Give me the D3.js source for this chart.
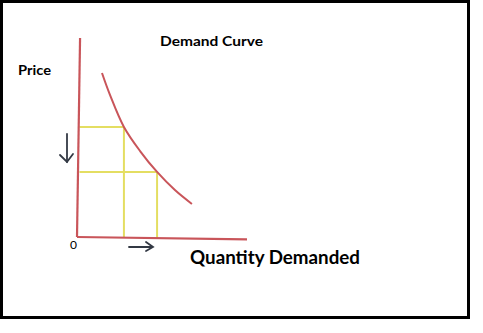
<!DOCTYPE html>
<html>
<head>
<meta charset="utf-8">
<script src="https://cdn.jsdelivr.net/npm/d3@7"></script>
<style>
  body { margin: 0; background: #fff; }
  svg { display: block; }
  text { font-family: Lato, "Open Sans", sans-serif; fill: #000; }
</style>
</head>
<body>
<svg id="chart" width="483" height="333"></svg>
<script>

// demand curve (quantity, price)
var curveQty   = [1.47, 1.94, 2.76, 3.71, 4.71, 5.76, 6.76];
var curvePrice = [8.24, 7.14, 5.53, 4.32, 3.27, 2.36, 1.66];

// the two price / quantity pairs marked with yellow guides
var guideQty   = [2.76, 4.71];
var guidePrice = [5.53, 3.27];

// hand drawn axes lean a little
var yAxisQty   = [0, 0.18];
var yAxisPrice = [0, 10];
var xAxisQty   = [0, 10];
var xAxisPrice = [0, -0.12];

var svg = d3.select('#chart');

var x = d3.scaleLinear().domain([0, 10]).range([77, 247]);
var y = d3.scaleLinear().domain([0, 10]).range([237, 38]);

var red = "#c9555a";
var yellow = "#e4de62";
var ink = "#333944";

// frame
svg.append("rect").attr("x", 1.5).attr("y", 1.5).attr("width", 467).attr("height", 316)
  .attr("fill", "#fff").attr("stroke", "#000").attr("stroke-width", 3);

var line = d3.line().x(function(d){ return x(d[0]); }).y(function(d){ return y(d[1]); });

// yellow guides
guideQty.forEach(function(q, i){
  var p = guidePrice[i];
  svg.append("path").attr("d", line([[0.15, p], [q, p]]))
    .attr("stroke", yellow).attr("stroke-width", 2).attr("fill", "none");
  svg.append("path").attr("d", line([[q, p], [q, -0.05]]))
    .attr("stroke", yellow).attr("stroke-width", 2).attr("fill", "none");
});

// axes
svg.append("path").attr("d", line(d3.zip(yAxisQty, yAxisPrice).reverse()))
  .attr("stroke", red).attr("stroke-width", 2.2).attr("fill", "none");
svg.append("path").attr("d", line(d3.zip(xAxisQty, xAxisPrice)))
  .attr("stroke", red).attr("stroke-width", 2.2).attr("fill", "none");

// demand curve
svg.append("path")
  .attr("d", d3.line().curve(d3.curveCatmullRom)
    .x(function(d){ return x(d[0]); }).y(function(d){ return y(d[1]); })(d3.zip(curveQty, curvePrice)))
  .attr("stroke", red).attr("stroke-width", 2).attr("fill", "none");

// arrows: price falls, quantity rises
var arrowDown = svg.append("g").attr("stroke", ink).attr("stroke-width", 1.8).attr("fill", "none")
  .attr("stroke-linecap", "round");
arrowDown.append("path").attr("d", "M67,134 L67,162");
arrowDown.append("path").attr("d", "M60,155 L67,162 L73,154");

var arrowRight = svg.append("g").attr("stroke", ink).attr("stroke-width", 1.8).attr("fill", "none")
  .attr("stroke-linecap", "round");
arrowRight.append("path").attr("d", "M129,247 L152,247");
arrowRight.append("path").attr("d", "M146,242 L153,247 L146,251");

// labels
svg.append("text").attr("x", 160).attr("y", 46).attr("font-size", 14).attr("font-weight", "bold")
  .attr("textLength", 103).attr("lengthAdjust", "spacingAndGlyphs")
  .text("Demand Curve");
svg.append("text").attr("x", 18).attr("y", 75).attr("font-size", 13.5).attr("font-weight", "bold")
  .attr("textLength", 33).attr("lengthAdjust", "spacingAndGlyphs")
  .text("Price");
svg.append("text").attr("x", 70).attr("y", 249).attr("font-size", 12)
  .text("0");
svg.append("text").attr("x", 190).attr("y", 264).attr("font-size", 18).attr("font-weight", "bold")
  .attr("textLength", 170).attr("lengthAdjust", "spacingAndGlyphs")
  .text("Quantity Demanded");

</script>
</body>
</html>
